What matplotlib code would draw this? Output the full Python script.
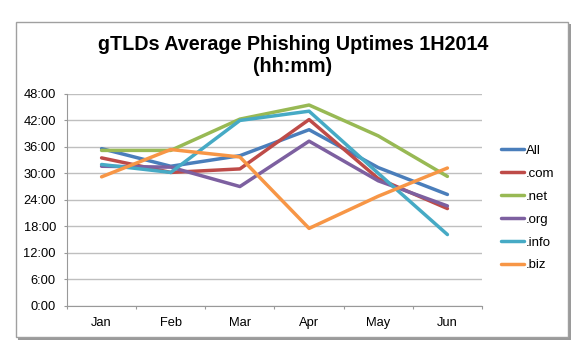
import matplotlib
matplotlib.use("Agg")
import matplotlib.pyplot as plt
from matplotlib.patches import Rectangle

plt.rcParams['font.family'] = ['Liberation Sans', 'DejaVu Sans']

months = ["Jan", "Feb", "Mar", "Apr", "May", "Jun"]
# values in hours
all_tld = [35.6, 31.6, 34.0, 39.9, 31.3, 25.2]
com = [33.5, 30.2, 31.0, 42.2, 28.8, 22.0]
net = [35.2, 35.2, 42.3, 45.5, 38.5, 29.3]
org = [31.6, 31.4, 27.0, 37.3, 28.3, 22.6]
info = [32.0, 30.2, 42.0, 44.1, 30.0, 16.1]
biz = [29.2, 35.4, 33.7, 17.5, 24.8, 31.2]

series_names = ["All", ".com", ".net", ".org", ".info", ".biz"]
series_vals = [all_tld, com, net, org, info, biz]
colors = ["#4A7EBB", "#BE4B48", "#98B954", "#7D60A0", "#46AAC5", "#F79646"]
ytick_hours = [0, 6, 12, 18, 24, 30, 36, 42, 48]

W, H = 584, 352
fig = plt.figure(figsize=(W / 100, H / 100), dpi=100)
fig.patch.set_facecolor("white")

# chart frame with shadow
fig.patches.append(Rectangle((18 / W, 1 - 340 / H), 553 / W, 316 / H,
                             transform=fig.transFigure, facecolor="#9a9a9a",
                             edgecolor="none", zorder=-10))
fig.patches.append(Rectangle((16 / W, 1 - 337 / H), 552 / W, 315 / H,
                             transform=fig.transFigure, facecolor="white",
                             edgecolor="#a0a0a0", linewidth=1.0, zorder=-9))

ax = fig.add_axes([67 / W, 1 - 305.5 / H, 415 / W, 211.5 / H])
ax.set_zorder(1)
ax.set_facecolor("none")
x = list(range(len(months)))
for name, vals, c in zip(series_names, series_vals, colors):
    ax.plot(x, vals, color=c, linewidth=2.5, label=name, solid_capstyle="round",
            solid_joinstyle="round", zorder=3)

ax.set_xlim(-0.5, len(months) - 0.5)
ax.set_ylim(0, 48)
ax.set_yticks(ytick_hours)
ax.set_yticklabels([f"{h}:00" for h in ytick_hours], fontsize=9.3)
ax.set_xticks(x)
ax.set_xticklabels(months, fontsize=9.3)
ax.set_xticks([i - 0.5 for i in range(len(months) + 1)], minor=True)
ax.tick_params(axis="x", which="major", length=0, pad=8)
ax.tick_params(axis="x", which="minor", length=2.5, color="#999999", width=0.8)
ax.tick_params(axis="y", length=2.5, color="#999999", width=0.8, pad=5.5)
ax.yaxis.grid(True, color="#bfbfbf", linewidth=1.0, zorder=0)
for s in ["top", "right"]:
    ax.spines[s].set_visible(False)
ax.spines["left"].set_color("#999999")
ax.spines["bottom"].set_color("#999999")
ax.spines["left"].set_linewidth(0.8)
ax.spines["bottom"].set_linewidth(0.8)

fig.text(293 / W, 1 - 44 / H, "gTLDs Average Phishing Uptimes 1H2014",
         ha="center", va="center", fontsize=14.2, fontweight="bold")
fig.text(293 / W, 1 - 67 / H, "(hh:mm)", ha="center", va="center",
         fontsize=14.2, fontweight="bold")

fig.legend(loc="center left", bbox_to_anchor=(501 / W, 1 - 208 / H),
           frameon=False, fontsize=9.5, handlelength=1.75, handletextpad=0.12,
           labelspacing=0.81, borderaxespad=0, borderpad=0)

fig.savefig("out.png", dpi=100)
